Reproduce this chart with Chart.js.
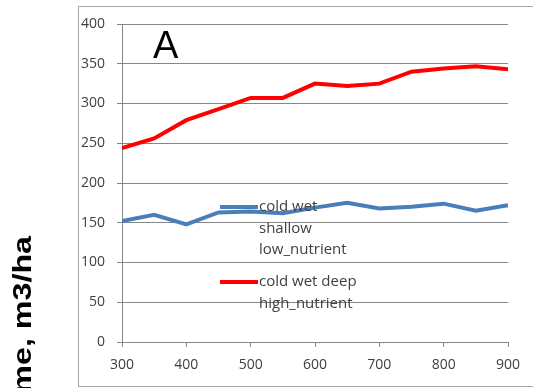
<!DOCTYPE html>
<html>
<head>
<meta charset="utf-8">
<script src="https://cdn.jsdelivr.net/npm/chart.js@4/dist/chart.umd.min.js"></script>
<style>
html,body{margin:0;padding:0;background:#fff;}
#wrap{width:533px;height:388px;position:relative;}
</style>
</head>
<body>
<div id="wrap"><canvas id="c" width="533" height="388"></canvas></div>
<script>
const xValues = [300, 350, 400, 450, 500, 550, 600, 650, 700, 750, 800, 850, 900];
const shallowLow = [152, 160, 148, 163, 164, 162, 169, 175, 168, 170, 174, 165, 172];
const deepHigh = [244, 256, 279, 293, 307, 307, 325, 322, 325, 340, 344, 347, 343];
const seriesLabels = [["cold wet", "shallow", "low_nutrient"], ["cold wet deep", "high_nutrient"]];
const yTicks = [0, 50, 100, 150, 200, 250, 300, 350, 400];
const xTicks = [300, 400, 500, 600, 700, 800, 900];
const panelLabel = "A";
const yTitle = "Volume, m3/ha";

const toPts = (vals) => xValues.map((x, i) => ({x: x, y: vals[i]}));

const decor = {
  id: 'decor',
  beforeDraw(chart) {
    const ctx = chart.ctx;
    ctx.save();
    ctx.fillStyle = '#fff';
    ctx.fillRect(0, 0, chart.width, chart.height);
    ctx.strokeStyle = '#a6a6a6';
    ctx.lineWidth = 1;
    ctx.strokeRect(78.5, 6.5, 600, 380);
    ctx.restore();
  },
  afterDraw(chart) {
    const ctx = chart.ctx;
    const a = chart.chartArea;
    ctx.save();
    // panel letter
    ctx.fillStyle = '#000';
    ctx.font = '38px "Liberation Sans", Arial, sans-serif';
    ctx.textBaseline = 'alphabetic';
    ctx.textAlign = 'left';
    ctx.fillText(panelLabel, a.left + 31, 58);
    // y title
    ctx.save();
    ctx.translate(31, 236);
    ctx.rotate(-Math.PI / 2);
    ctx.scale(1.24, 1);
    ctx.font = 'bold 26px "Liberation Sans", Arial, sans-serif';
    ctx.textAlign = 'right';
    ctx.textBaseline = 'alphabetic';
    ctx.fillStyle = '#000';
    ctx.fillText(yTitle, 0, 0);
    ctx.restore();
    // legend
    const ds = chart.data.datasets;
    const rows = [207, 282];
    ctx.font = '15px "Open Sans", sans-serif';
    ctx.textBaseline = 'middle';
    ctx.textAlign = 'left';
    ds.forEach((d, i) => {
      const y0 = rows[i];
      ctx.strokeStyle = d.borderColor;
      ctx.lineWidth = 4;
      ctx.beginPath();
      ctx.moveTo(a.left + 98, y0);
      ctx.lineTo(a.left + 136, y0);
      ctx.stroke();
      ctx.fillStyle = '#404040';
      seriesLabels[i].forEach((t, j) => {
        ctx.fillText(t, a.left + 137, y0 + j * 21.5);
      });
    });
    ctx.restore();
  }
};

new Chart(document.getElementById('c'), {
  type: 'line',
  data: {
    datasets: [
      {label: seriesLabels[0].join(' '), data: toPts(shallowLow), borderColor: '#4a7ebb', borderWidth: 4, pointRadius: 0, tension: 0, fill: false},
      {label: seriesLabels[1].join(' '), data: toPts(deepHigh), borderColor: '#ff0000', borderWidth: 4, pointRadius: 0, tension: 0, fill: false}
    ]
  },
  options: {
    responsive: false,
    animation: false,
    layout: {padding: {left: 0, right: 25, top: 24, bottom: 0}},
    plugins: {legend: {display: false}, tooltip: {enabled: false}},
    scales: {
      x: {
        type: 'linear', min: 300, max: 900,
        afterBuildTicks: (s) => { s.ticks = xTicks.map(v => ({value: v})); },
        afterFit: (s) => { s.height = 46; },
        grid: {drawOnChartArea: false, color: '#868686', tickLength: 5},
        border: {display: true, color: '#868686'},
        ticks: {color: '#404040', padding: 10, maxRotation: 0, font: {family: '"Open Sans", sans-serif', size: 14}}
      },
      y: {
        min: 0, max: 400,
        afterBuildTicks: (s) => { s.ticks = yTicks.map(v => ({value: v})); },
        afterFit: (s) => { s.width = 122; },
        grid: {color: '#868686', tickLength: 5},
        border: {display: true, color: '#868686'},
        ticks: {color: '#404040', padding: 12, font: {family: '"Open Sans", sans-serif', size: 14}}
      }
    }
  },
  plugins: [decor]
});
</script>
</body>
</html>
